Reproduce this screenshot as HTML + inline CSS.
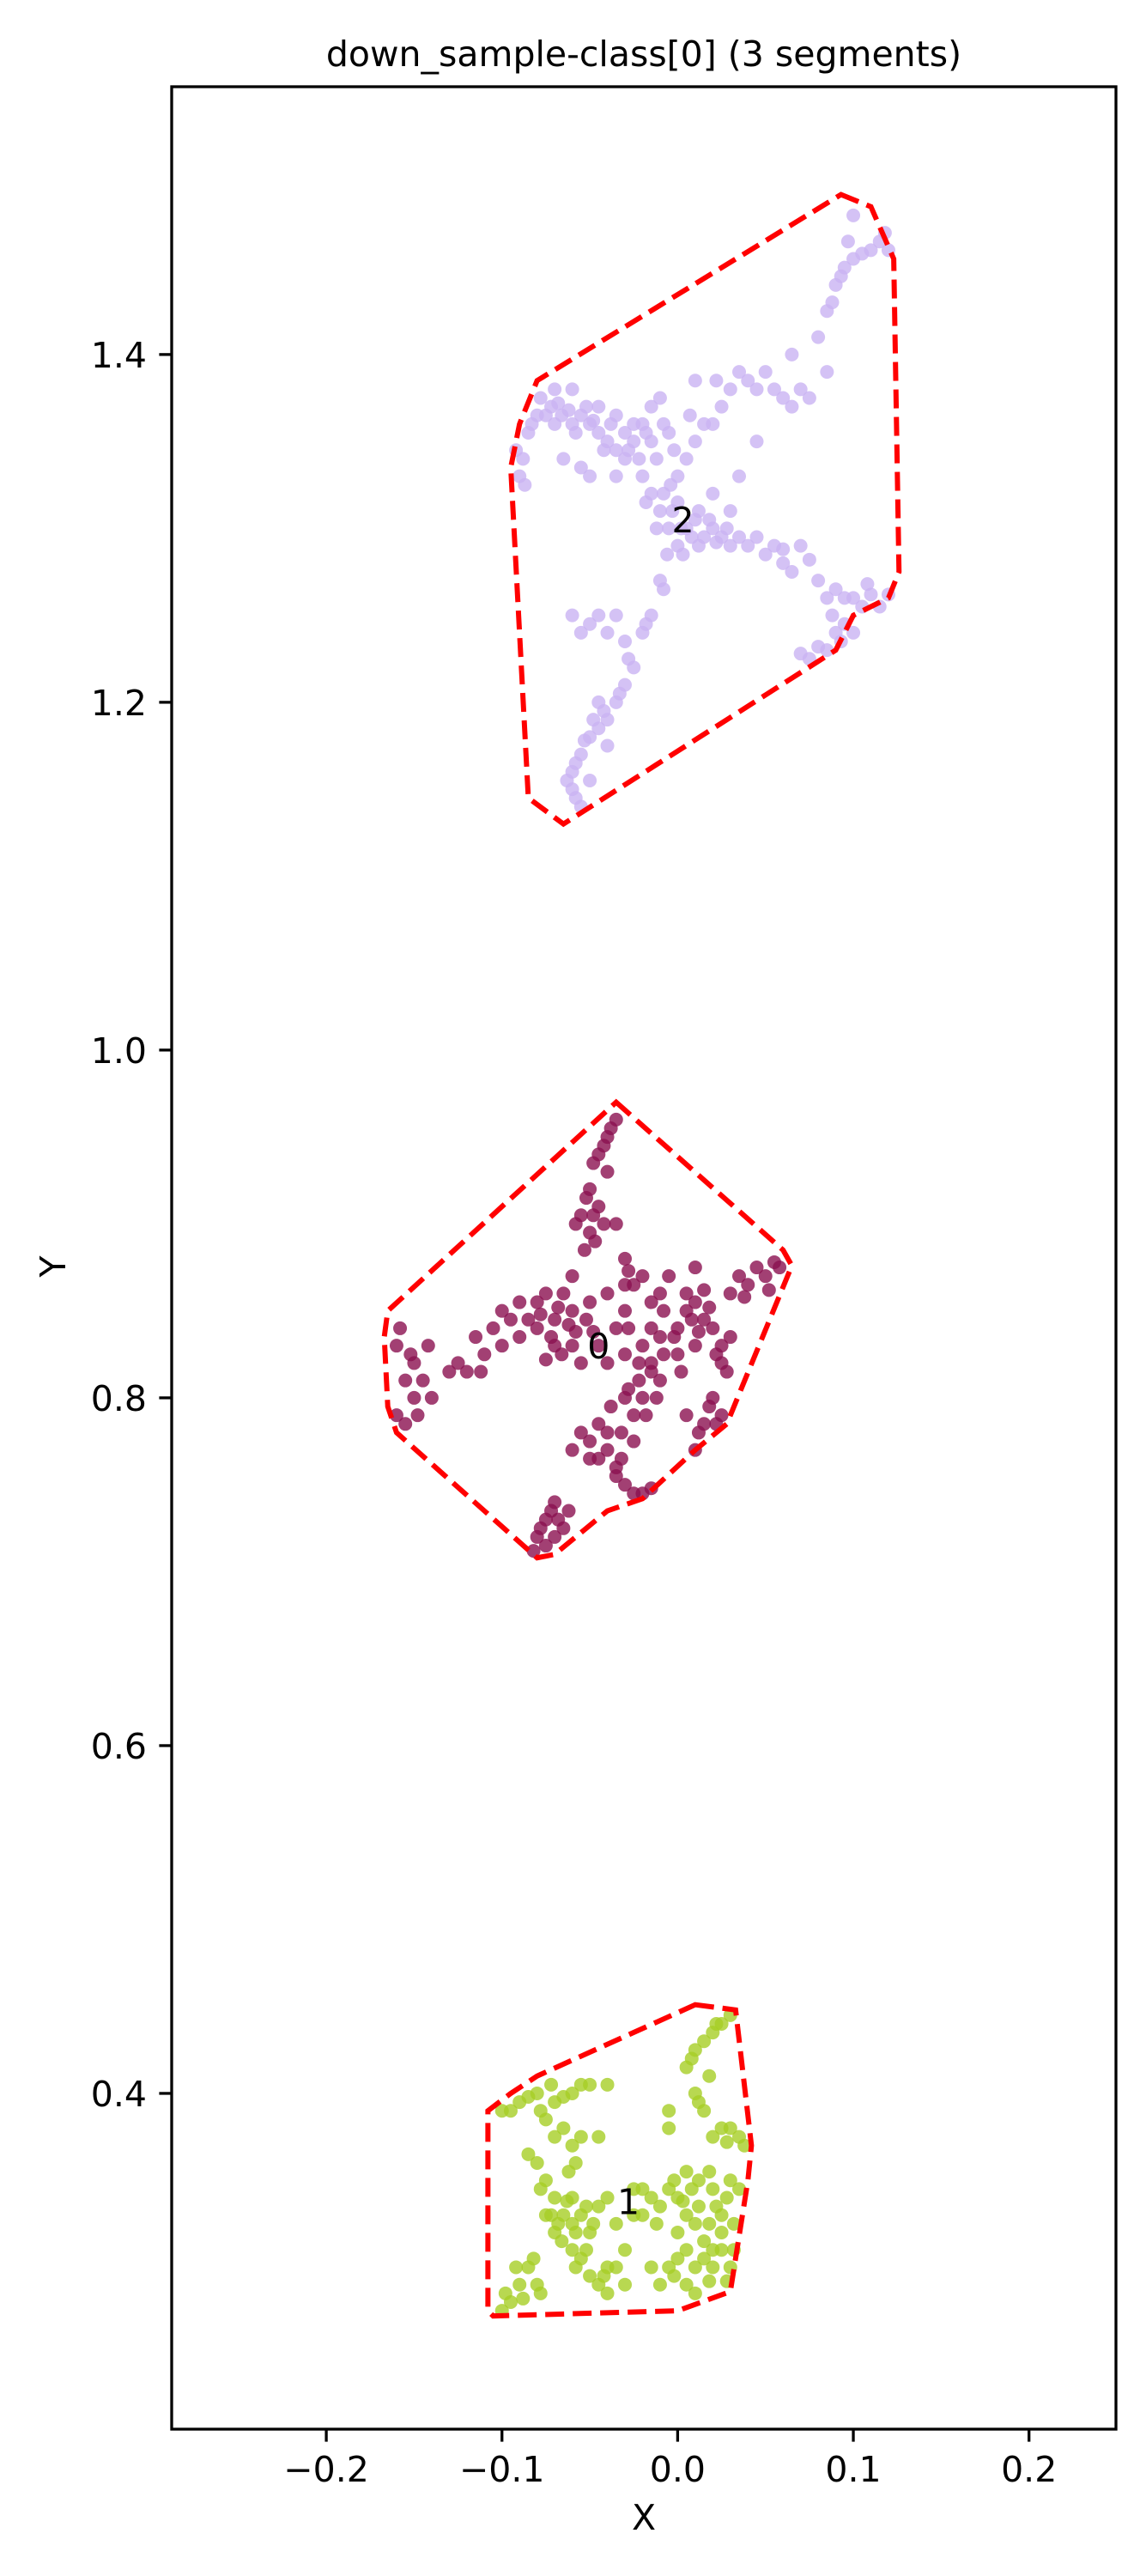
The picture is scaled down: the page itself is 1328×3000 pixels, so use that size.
<!DOCTYPE html>
<html><head><meta charset="utf-8">
<style>
html,body{margin:0;padding:0;background:#fff;}
svg{display:block;font-family:"DejaVu Sans","Liberation Sans",sans-serif;}
</style></head>
<body>
<svg id="chart" width="1328" height="3000" viewBox="0 0 1328 3000" xmlns="http://www.w3.org/2000/svg">
<rect width="1328" height="3000" fill="#fff"/>
<text x="750" y="77" font-size="41" text-anchor="middle">down_sample-class[0] (3 segments)</text>
<g id="plot"></g>
<rect x="200" y="101" width="1100" height="2728" fill="none" stroke="#000" stroke-width="3.3"/>
<g id="axes"></g>
<text x="750" y="2946" font-size="41" text-anchor="middle">X</text>
<text x="0" y="0" font-size="41" text-anchor="middle" transform="translate(76,1475) rotate(-90)">Y</text>
</svg>
<script>
const xTicks=[-0.2,-0.1,0.0,0.1,0.2];
const yTicks=[0.4,0.6,0.8,1.0,1.2,1.4];
const clusterIds=[2,0,1];
const clusterColors=["#c9b3f2","#8b1050","#a6ce26"];
const clusterAlpha=[0.8,0.8,0.8];
const labelPos=[[0.003,1.305],[-0.045,0.83],[-0.028,0.338]];
const hull2=[[0.093,1.492],[0.11,1.485],[0.123,1.455],[0.126,1.275],[0.12,1.26],[0.1,1.25],[0.09,1.23],[-0.065,1.13],[-0.085,1.145],[-0.095,1.335],[-0.09,1.36],[-0.08,1.385]];
const hull0=[[-0.035,0.97],[0.06,0.885],[0.065,0.876],[0.028,0.785],[0.01,0.77],[-0.02,0.742],[-0.04,0.735],[-0.07,0.71],[-0.08,0.708],[-0.16,0.78],[-0.165,0.795],[-0.167,0.835],[-0.165,0.85]];
const hull1=[[0.01,0.451],[0.033,0.448],[0.042,0.37],[0.04,0.35],[0.03,0.286],[0.0,0.275],[-0.105,0.272],[-0.108,0.275],[-0.108,0.39],[-0.095,0.4],[-0.08,0.41]];
const pts2=[[-0.09,1.33],[-0.088,1.34],[-0.085,1.355],[-0.08,1.365],[-0.078,1.375],[-0.072,1.37],[-0.066,1.365],[-0.06,1.36],[-0.055,1.365],[-0.05,1.36],[-0.045,1.355],[-0.04,1.35],[-0.035,1.345],[-0.03,1.34],[-0.025,1.35],[-0.02,1.36],[-0.015,1.37],[-0.01,1.375],[-0.02,1.33],[-0.015,1.32],[-0.01,1.31],[-0.005,1.3],[0.0,1.29],[0.005,1.3],[0.01,1.305],[0.015,1.295],[0.02,1.3],[0.025,1.295],[0.03,1.29],[0.04,1.29],[0.05,1.285],[0.055,1.29],[0.06,1.28],[0.07,1.29],[0.08,1.27],[0.09,1.265],[0.1,1.26],[0.11,1.262],[0.115,1.255],[0.12,1.262],[0.095,1.245],[0.09,1.24],[0.085,1.23],[0.075,1.225],[-0.03,1.355],[-0.035,1.33],[-0.05,1.33],[-0.055,1.335],[-0.065,1.34],[0.0,1.33],[0.005,1.34],[0.01,1.35],[0.02,1.36],[0.025,1.37],[0.03,1.38],[0.04,1.385],[0.05,1.39],[0.055,1.38],[0.065,1.37],[0.075,1.375],[0.065,1.4],[0.08,1.41],[0.085,1.425],[0.09,1.44],[0.095,1.45],[0.1,1.455],[0.11,1.46],[0.115,1.465],[0.12,1.46],[0.1,1.48],[0.085,1.39],[-0.01,1.27],[-0.015,1.25],[-0.02,1.24],[-0.03,1.235],[-0.025,1.22],[-0.03,1.21],[-0.035,1.2],[-0.04,1.19],[-0.045,1.185],[-0.05,1.18],[-0.055,1.17],[-0.06,1.16],[-0.06,1.15],[-0.055,1.14],[-0.05,1.155],[-0.04,1.175],[-0.06,1.25],[-0.05,1.245],[-0.04,1.24],[-0.035,1.25],[-0.015,1.35],[0.02,1.32],[0.035,1.33],[0.045,1.35],[-0.045,1.37],[-0.06,1.38],[-0.07,1.38],[0.01,1.385],[-0.005,1.355],
[-0.087,1.325],[-0.092,1.345],[-0.083,1.36],[-0.075,1.365],[-0.07,1.36],[-0.068,1.372],[-0.062,1.368],[-0.058,1.355],[-0.052,1.37],[-0.048,1.362],[-0.042,1.345],[-0.038,1.36],[-0.028,1.345],[-0.022,1.34],[-0.018,1.355],[-0.012,1.34],[-0.008,1.32],[-0.003,1.31],[0.002,1.3],[0.008,1.295],[0.012,1.29],[0.018,1.305],[0.022,1.292],[-0.018,1.315],[-0.012,1.3],[-0.006,1.285],[0.003,1.285],[0.028,1.3],[0.035,1.295],[0.045,1.295],[0.06,1.288],[0.065,1.275],[0.075,1.282],[0.085,1.26],[0.095,1.26],[0.105,1.255],[0.108,1.268],[0.1,1.24],[0.093,1.235],[0.08,1.232],[0.07,1.228],[0.088,1.25],[-0.008,1.36],[-0.002,1.345],[0.007,1.365],[0.015,1.36],[0.022,1.385],[0.035,1.39],[0.045,1.38],[0.06,1.375],[0.07,1.38],[0.088,1.43],[0.093,1.445],[0.105,1.458],[0.118,1.47],[0.097,1.465],[-0.008,1.265],[-0.018,1.245],[-0.028,1.225],[-0.033,1.205],[-0.042,1.195],[-0.048,1.19],[-0.053,1.178],[-0.058,1.165],[-0.063,1.155],[-0.058,1.145],[-0.045,1.2],[-0.055,1.24],[-0.045,1.25],[-0.025,1.36],[-0.035,1.365],[0.0,1.315],[0.012,1.31],[-0.004,1.325],[0.03,1.31]];
const pts0=[[-0.035,0.96],[-0.04,0.95],[-0.045,0.94],[-0.04,0.93],[-0.05,0.92],[-0.045,0.91],[-0.055,0.905],[-0.05,0.895],[-0.035,0.9],[-0.03,0.88],[-0.025,0.865],[-0.03,0.85],[-0.04,0.86],[-0.05,0.855],[-0.06,0.85],[-0.07,0.845],[-0.08,0.84],[-0.09,0.835],[-0.1,0.83],[-0.11,0.825],[-0.12,0.815],[-0.13,0.815],[-0.15,0.82],[-0.16,0.83],[-0.155,0.81],[-0.15,0.8],[-0.14,0.8],[-0.16,0.79],[-0.075,0.86],[-0.065,0.86],[-0.06,0.83],[-0.055,0.82],[-0.045,0.83],[-0.04,0.82],[-0.03,0.825],[-0.02,0.83],[-0.01,0.835],[0.0,0.84],[0.005,0.85],[0.01,0.855],[0.015,0.845],[0.02,0.84],[0.025,0.83],[0.01,0.83],[0.0,0.825],[0.03,0.86],[0.04,0.865],[0.05,0.87],[0.058,0.875],[0.035,0.87],[0.025,0.82],[0.02,0.8],[0.025,0.79],[0.015,0.785],[-0.01,0.81],[-0.02,0.8],[-0.025,0.79],[-0.03,0.8],[-0.04,0.78],[-0.05,0.775],[-0.045,0.765],[-0.035,0.76],[-0.03,0.75],[-0.06,0.77],[-0.07,0.74],[-0.075,0.73],[-0.08,0.72],[-0.075,0.715],[-0.065,0.725],[-0.02,0.745],[-0.025,0.745],[-0.035,0.755],[-0.01,0.86],[-0.005,0.87],[0.01,0.77],[-0.015,0.855],[-0.02,0.87],[-0.1,0.85],[-0.09,0.855],[-0.08,0.855],[0.01,0.875],[-0.06,0.87],[0.03,0.835],
[-0.038,0.955],[-0.042,0.945],[-0.048,0.935],[-0.052,0.915],[-0.058,0.9],[-0.048,0.905],[-0.042,0.9],[-0.047,0.89],[-0.053,0.885],[-0.085,0.845],[-0.078,0.848],[-0.072,0.835],[-0.068,0.852],[-0.062,0.842],[-0.058,0.838],[-0.052,0.845],[-0.048,0.838],[-0.066,0.825],[-0.07,0.83],[-0.075,0.822],[-0.095,0.845],[-0.105,0.84],[-0.115,0.835],[-0.112,0.815],[-0.125,0.82],[-0.145,0.81],[-0.152,0.825],[-0.158,0.84],[-0.148,0.79],[-0.155,0.785],[-0.142,0.83],[-0.028,0.84],[-0.022,0.82],[-0.015,0.815],[-0.008,0.825],[0.002,0.815],[0.008,0.845],[0.012,0.838],[0.018,0.852],[0.022,0.825],[0.028,0.815],[0.005,0.86],[0.015,0.862],[0.045,0.875],[0.052,0.862],[0.038,0.858],[0.055,0.878],[0.018,0.795],[0.022,0.785],[0.012,0.78],[0.005,0.79],[-0.015,0.82],[-0.022,0.81],[-0.028,0.805],[-0.018,0.79],[-0.012,0.8],[-0.032,0.78],[-0.025,0.775],[-0.038,0.795],[-0.045,0.785],[-0.055,0.78],[-0.05,0.765],[-0.04,0.77],[-0.032,0.765],[-0.072,0.735],[-0.078,0.725],[-0.07,0.72],[-0.082,0.712],[-0.068,0.73],[-0.062,0.735],[-0.015,0.748],[-0.035,0.84],[-0.03,0.865],[-0.028,0.873],[-0.015,0.84],[-0.008,0.85],[-0.002,0.835]];
const pts1=[[-0.1,0.275],[-0.095,0.28],[-0.09,0.29],[-0.085,0.3],[-0.08,0.29],[-0.1,0.39],[-0.09,0.395],[-0.08,0.4],[-0.07,0.395],[-0.06,0.4],[-0.05,0.405],[-0.04,0.405],[-0.065,0.38],[-0.06,0.37],[-0.055,0.375],[-0.075,0.35],[-0.07,0.34],[-0.065,0.33],[-0.06,0.325],[-0.055,0.33],[-0.05,0.32],[-0.045,0.335],[-0.04,0.34],[-0.06,0.31],[-0.055,0.305],[-0.05,0.295],[-0.045,0.29],[-0.04,0.3],[-0.03,0.31],[-0.02,0.33],[-0.01,0.335],[-0.005,0.345],[0.0,0.34],[0.005,0.33],[0.01,0.325],[0.015,0.315],[0.02,0.31],[0.025,0.32],[0.03,0.3],[0.02,0.3],[0.01,0.3],[0.0,0.305],[-0.005,0.3],[0.005,0.29],[0.01,0.285],[0.02,0.345],[0.03,0.35],[0.025,0.33],[0.035,0.375],[0.03,0.38],[0.02,0.375],[0.015,0.39],[0.01,0.4],[0.005,0.415],[0.01,0.425],[0.015,0.43],[0.02,0.435],[0.025,0.44],[-0.08,0.36],[-0.07,0.32],[-0.025,0.345],[-0.035,0.325],[0.005,0.355],[0.0,0.32],[-0.01,0.29],[-0.06,0.34],[-0.075,0.33],
[-0.098,0.285],[-0.092,0.3],[-0.088,0.282],[-0.082,0.305],[-0.078,0.285],[-0.095,0.39],[-0.085,0.398],[-0.078,0.39],[-0.072,0.405],[-0.065,0.398],[-0.055,0.405],[-0.075,0.385],[-0.07,0.375],[-0.058,0.36],[-0.062,0.355],[-0.078,0.345],[-0.072,0.33],[-0.068,0.325],[-0.063,0.338],[-0.058,0.32],[-0.052,0.335],[-0.048,0.325],[-0.066,0.315],[-0.058,0.3],[-0.052,0.31],[-0.042,0.295],[-0.035,0.3],[-0.04,0.285],[-0.03,0.29],[-0.015,0.3],[-0.02,0.345],[-0.015,0.34],[-0.002,0.35],[0.003,0.338],[0.008,0.345],[0.012,0.335],[0.018,0.325],[0.022,0.335],[0.028,0.34],[0.015,0.305],[0.025,0.31],[0.028,0.292],[0.018,0.292],[0.005,0.31],[-0.002,0.295],[0.012,0.35],[0.018,0.355],[0.035,0.345],[0.025,0.38],[0.038,0.37],[0.028,0.372],[0.012,0.395],[0.018,0.41],[0.022,0.44],[0.03,0.445],[0.008,0.42],[-0.005,0.38],[-0.005,0.39],[-0.045,0.375],[-0.085,0.365],[-0.012,0.325],[-0.025,0.33],[0.032,0.325],[0.032,0.31]];

const X0=-0.288,X1=0.2495,Y0=0.2069,Y1=1.554;
const PL=200,PR=1300,PT=101,PB=2829;
function sx(v){return PL+(v-X0)/(X1-X0)*(PR-PL);}
function sy(v){return PB-(v-Y0)/(Y1-Y0)*(PB-PT);}
const NS="http://www.w3.org/2000/svg";
const plot=document.getElementById('plot');
const axes=document.getElementById('axes');

const ptSets=[pts2,pts0,pts1];
const hulls=[hull2,hull0,hull1];
ptSets.forEach((set,ci)=>{
  const g=document.createElementNS(NS,'g');
  
  
  g.setAttribute('fill',clusterColors[ci]);
  g.setAttribute('fill-opacity',clusterAlpha[ci]);
  set.forEach(p=>{
    const c=document.createElementNS(NS,'circle');
    
    
    c.setAttribute('cx',sx(p[0]));c.setAttribute('cy',sy(p[1]));c.setAttribute('r',8);
    g.appendChild(c);
  });
  plot.appendChild(g);
});
hulls.forEach((h,ci)=>{
  const pg=document.createElementNS(NS,'polygon');
  
  
  pg.setAttribute('points',h.map(p=>sx(p[0])+','+sy(p[1])).join(' '));
  pg.setAttribute('fill','none');pg.setAttribute('stroke','#ff0000');
  pg.setAttribute('stroke-width','6');pg.setAttribute('stroke-dasharray','22 10');
  plot.appendChild(pg);
});
labelPos.forEach((p,ci)=>{
  const t=document.createElementNS(NS,'text');
  
  
  t.setAttribute('x',sx(p[0]));t.setAttribute('y',sy(p[1])+15);
  t.setAttribute('font-size','41');t.setAttribute('text-anchor','middle');
  t.textContent=String(clusterIds[ci]);
  plot.appendChild(t);
});
xTicks.forEach(v=>{
  const l=document.createElementNS(NS,'line');
  
  
  l.setAttribute('x1',sx(v));l.setAttribute('x2',sx(v));l.setAttribute('y1',PB);l.setAttribute('y2',PB+14.6);
  l.setAttribute('stroke','#000');l.setAttribute('stroke-width','3.3');
  axes.appendChild(l);
  const t=document.createElementNS(NS,'text');
  
  
  t.setAttribute('x',sx(v));t.setAttribute('y',2890);t.setAttribute('font-size','41');t.setAttribute('text-anchor','middle');
  t.textContent=(v<0?'\u2212':'')+Math.abs(v).toFixed(1);
  axes.appendChild(t);
});
yTicks.forEach(v=>{
  const l=document.createElementNS(NS,'line');
  
  
  l.setAttribute('x1',PL-14.6);l.setAttribute('x2',PL);l.setAttribute('y1',sy(v));l.setAttribute('y2',sy(v));
  l.setAttribute('stroke','#000');l.setAttribute('stroke-width','3.3');
  axes.appendChild(l);
  const t=document.createElementNS(NS,'text');
  
  
  t.setAttribute('x',171);t.setAttribute('y',sy(v)+15);t.setAttribute('font-size','41');t.setAttribute('text-anchor','end');
  t.textContent=v.toFixed(1);
  axes.appendChild(t);
});
</script>
</body></html>
